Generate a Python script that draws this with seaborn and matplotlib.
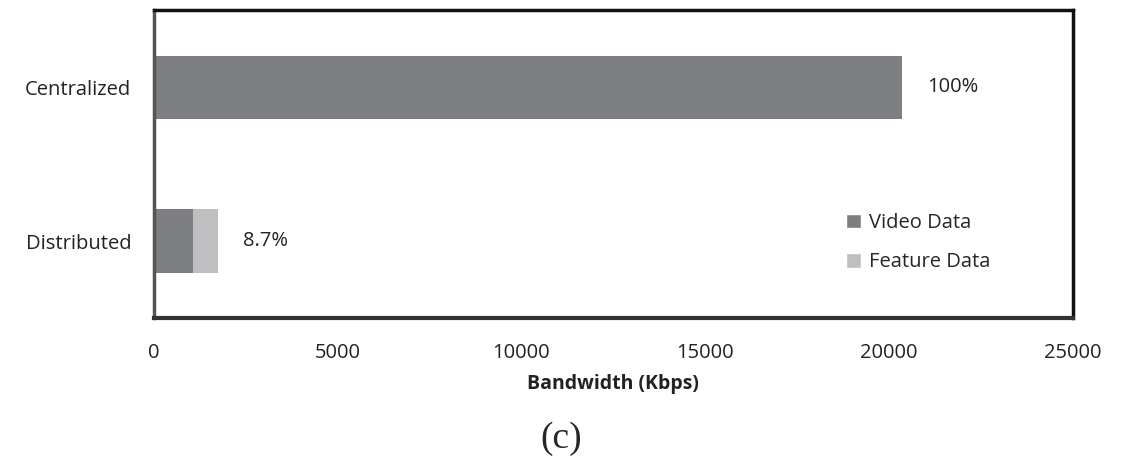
import matplotlib
matplotlib.use("Agg")
import matplotlib.pyplot as plt
import seaborn as sns
import pandas as pd
from matplotlib.patches import Patch

categories = ["Centralized", "Distributed"]
video_data = [20350, 1060]
feature_data = [0, 700]
pct_labels = ["100%", "8.7%"]
xticks = [0, 5000, 10000, 15000, 20000, 25000]

sns.set_theme(style="white")
plt.rcParams['font.family'] = ['Open Sans', 'DejaVu Sans']

df = pd.DataFrame({
    "category": categories,
    "video": video_data,
    "feature": feature_data,
})
df["total"] = df["video"] + df["feature"]

c_video = "#7e7f83"
c_feature = "#bfbfc1"

fig = plt.figure(figsize=(11.3, 4.59), dpi=100)
ax = fig.add_axes([0.136, 0.3072, 0.8136, 0.6708])

sns.barplot(data=df, x="total", y="category", orient="h", color=c_feature,
            width=0.41, ax=ax, saturation=1, edgecolor="none")
sns.barplot(data=df, x="video", y="category", orient="h", color=c_video,
            width=0.41, ax=ax, saturation=1, edgecolor="none")

ax.set_xlim(0, 25000)
ax.set_ylim(1.5, -0.5)
ax.set_xticks(xticks)
ax.set_xticklabels([str(t) for t in xticks], fontsize=14.5, color="#222222")
ax.tick_params(axis="x", direction="out", length=4, width=1, color="#555555", pad=14)
ax.tick_params(axis="y", which="major", length=0, pad=16, labelsize=14.5, labelcolor="#222222")
ax.set_yticks([-0.5, 0.5, 1.5], minor=True)
ax.tick_params(axis="y", which="minor", direction="out", length=5, width=1, color="#555555")
ax.set_ylabel("")
ax.set_xlabel("Bandwidth (Kbps)", fontsize=14, fontweight="bold", color="#222222", labelpad=8)

for i, row in df.iterrows():
    ax.annotate(pct_labels[i], xy=(row["total"], i), xytext=(18, 0),
                textcoords="offset points", va="center", ha="left",
                fontsize=14.5, color="#222222")

for side in ["top", "right"]:
    ax.spines[side].set_color("#111111")
    ax.spines[side].set_linewidth(2.5)
ax.spines["bottom"].set_color("#333333")
ax.spines["bottom"].set_linewidth(3)
ax.spines["left"].set_color("#555555")
ax.spines["left"].set_linewidth(2.5)

handles = [Patch(facecolor=c_video, label="Video Data"),
           Patch(facecolor=c_feature, label="Feature Data")]
ax.legend(handles=handles, loc="lower left", bbox_to_anchor=(0.733, 0.09),
          frameon=False, fontsize=14.5, handlelength=0.75, handleheight=0.75,
          handletextpad=0.4, labelspacing=0.95)

fig.text(0.497, 0.045, "(c)", fontsize=27, family="Liberation Serif", ha="center", va="center")

fig.savefig("out.png", dpi=100)
